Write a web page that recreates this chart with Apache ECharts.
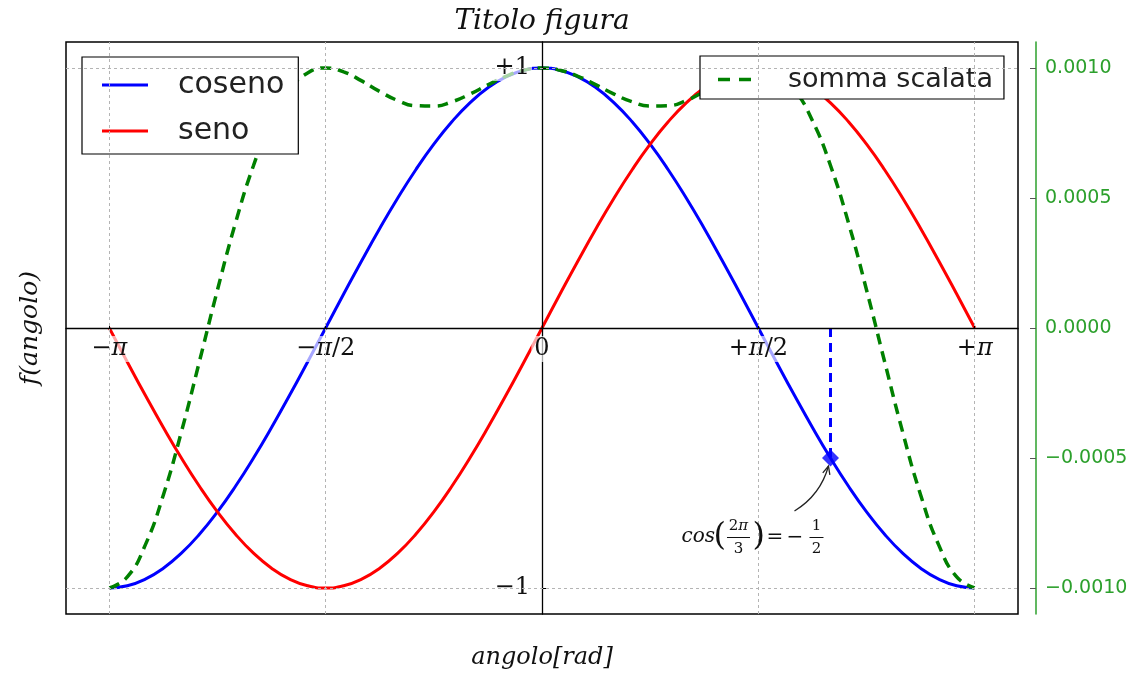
<!DOCTYPE html>
<html>
<head>
<meta charset="utf-8">
<script src="https://cdn.jsdelivr.net/npm/echarts@6/dist/echarts.min.js"></script>
<style>
  html, body { margin: 0; padding: 0; background: #fff; }
  #chart { width: 1131px; height: 673px; }
</style>
</head>
<body>
<div id="chart"></div>
<script>
// Sample angles in radians (step pi/24) and the curves evaluated on them
const angles = [
  -3.1416, -3.0107, -2.8798, -2.7489, -2.6180, -2.4871, -2.3562, -2.2253, -2.0944, -1.9635,
  -1.8326, -1.7017, -1.5708, -1.4399, -1.3090, -1.1781, -1.0472, -0.9163, -0.7854, -0.6545,
  -0.5236, -0.3927, -0.2618, -0.1309, 0, 0.1309, 0.2618, 0.3927, 0.5236, 0.6545,
  0.7854, 0.9163, 1.0472, 1.1781, 1.3090, 1.4399, 1.5708, 1.7017, 1.8326, 1.9635,
  2.0944, 2.2253, 2.3562, 2.4871, 2.6180, 2.7489, 2.8798, 3.0107, 3.1416
];
const cosValues = [
  -1, -0.9914, -0.9659, -0.9239, -0.8660, -0.7934, -0.7071, -0.6088, -0.5, -0.3827,
  -0.2588, -0.1305, 0, 0.1305, 0.2588, 0.3827, 0.5, 0.6088, 0.7071, 0.7934,
  0.8660, 0.9239, 0.9659, 0.9914, 1, 0.9914, 0.9659, 0.9239, 0.8660, 0.7934,
  0.7071, 0.6088, 0.5, 0.3827, 0.2588, 0.1305, 0, -0.1305, -0.2588, -0.3827,
  -0.5, -0.6088, -0.7071, -0.7934, -0.8660, -0.9239, -0.9659, -0.9914, -1
];
const sinValues = [
  0, -0.1305, -0.2588, -0.3827, -0.5, -0.6088, -0.7071, -0.7934, -0.8660, -0.9239,
  -0.9659, -0.9914, -1, -0.9914, -0.9659, -0.9239, -0.8660, -0.7934, -0.7071, -0.6088,
  -0.5, -0.3827, -0.2588, -0.1305, 0, 0.1305, 0.2588, 0.3827, 0.5, 0.6088,
  0.7071, 0.7934, 0.8660, 0.9239, 0.9659, 0.9914, 1, 0.9914, 0.9659, 0.9239,
  0.8660, 0.7934, 0.7071, 0.6088, 0.5, 0.3827, 0.2588, 0.1305, 0
];
// "somma scalata", plotted against the right-hand axis
const scaledSum = [
  -0.0010000, -0.0009575, -0.0008343, -0.0006421, -0.0003995, -0.0001288, 0.0001464, 0.0004038, 0.0006250, 0.0007975,
  0.0009157, 0.0009807, 0.0010000, 0.0009852, 0.0009504, 0.0009096, 0.0008750, 0.0008550, 0.0008536, 0.0008699,
  0.0008995, 0.0009350, 0.0009682, 0.0009916, 0.0010000, 0.0009916, 0.0009682, 0.0009350, 0.0008995, 0.0008699,
  0.0008536, 0.0008550, 0.0008750, 0.0009096, 0.0009504, 0.0009852, 0.0010000, 0.0009807, 0.0009157, 0.0007975,
  0.0006250, 0.0004038, 0.0001464, -0.0001288, -0.0003995, -0.0006421, -0.0008343, -0.0009575, -0.0010000
];

// Tick positions and their labels
const xTickValues = [-Math.PI, -Math.PI / 2, 0, Math.PI / 2, Math.PI];
const xTickLabels = ['−π', '−π/2', '0', '+π/2', '+π'];
const yTickValues = [-1, 1];
const yTickLabels = ['−1', '+1'];
const rightTickValues = [-0.001, -0.0005, 0, 0.0005, 0.001];
const rightTickLabels = ['−0.0010', '−0.0005', '0.0000', '0.0005', '0.0010'];

// Highlighted point: cos(2π/3) = −1/2
const markX = [2.0944];
const markY = [-0.5];

const SERIF = 'DejaVu Serif';
const SANS = 'DejaVu Sans';
const RIGHT_GREEN = '#2ca02c';
const W = 1131, H = 673;
const GRID = { left: 66, right: 113, top: 42, bottom: 59 };
const gridW = W - GRID.left - GRID.right;
const gridH = H - GRID.top - GRID.bottom;

function lookup(values, labels, v) {
  const i = values.findIndex(t => Math.abs(t - v) < 1e-9);
  return i < 0 ? '' : labels[i];
}
function mathLabel(s) {
  return s.replace(/π/g, '{i|π}');
}
const pairs = ys => angles.map((x, i) => [x, ys[i]]);

const chart = echarts.init(document.getElementById('chart'), null, { renderer: 'canvas' });

// The axes cross at the origin; both ranges are symmetric, so the spines sit mid-plot
const option = {
  animation: false,
  backgroundColor: '#fff',
  grid: Object.assign({
    show: true, borderColor: '#000', borderWidth: 1.5, backgroundColor: '#fff',
    outerBoundsMode: 'none'
  }, GRID),
  legend: [
    {
      data: [
        { name: 'coseno', icon: 'rect' },
        { name: 'seno', icon: 'rect' }
      ],
      orient: 'vertical',
      left: 82, top: 57,
      padding: [13, 14, 8, 20],
      itemGap: 16, itemWidth: 46, itemHeight: 3,
      backgroundColor: '#fff', borderColor: '#000', borderWidth: 1.2, borderRadius: 0,
      selectedMode: false,
      formatter: n => '{t|' + n + '}',
      textStyle: {
        fontFamily: SANS, fontSize: 30, lineHeight: 30, color: '#222',
        rich: { t: { fontFamily: SANS, fontSize: 30, lineHeight: 30, color: '#222', padding: [0, 0, 0, 25] } }
      }
    },
    {
      data: [
        { name: 'somma scalata', icon: 'path://M0,0h12v3.5h-12z M21,0h12v3.5h-12z' }
      ],
      orient: 'vertical',
      left: 700, top: 56,
      padding: [10, 11, 6, 18],
      itemWidth: 33, itemHeight: 3.5,
      backgroundColor: '#fff', borderColor: '#000', borderWidth: 1.2, borderRadius: 0,
      selectedMode: false,
      formatter: n => '{t|' + n + '}',
      textStyle: {
        fontFamily: SANS, fontSize: 27, lineHeight: 27, color: '#222',
        rich: { t: { fontFamily: SANS, fontSize: 27, lineHeight: 27, color: '#222', padding: [0, 0, 0, 32] } }
      }
    }
  ],
  xAxis: {
    type: 'value',
    min: -1.1 * Math.PI, max: 1.1 * Math.PI,
    position: 'bottom',
    offset: -gridH / 2,
    z: 3,
    axisLine: { onZero: false, lineStyle: { color: '#000', width: 1.3 } },
    axisTick: { show: true, inside: true, length: 5, customValues: xTickValues, lineStyle: { color: '#000' } },
    axisLabel: {
      customValues: xTickValues,
      formatter: v => mathLabel(lookup(xTickValues, xTickLabels, v)),
      margin: 8,
      fontFamily: SERIF, fontSize: 24, color: '#111',
      backgroundColor: 'rgba(255,255,255,0.65)', padding: [1, 3],
      rich: { i: { fontFamily: SERIF, fontSize: 24, fontStyle: 'italic', color: '#111' } }
    },
    splitLine: { show: false }
  },
  yAxis: [
    {
      type: 'value',
      min: -1.1, max: 1.1,
      position: 'left',
      offset: -gridW / 2,
      z: 3,
      axisLine: { onZero: false, lineStyle: { color: '#000', width: 1.3 } },
      axisTick: { show: true, inside: true, length: 5, customValues: yTickValues, lineStyle: { color: '#000' } },
      axisLabel: {
        customValues: yTickValues,
        formatter: v => lookup(yTickValues, yTickLabels, v),
        margin: 10,
        fontFamily: SERIF, fontSize: 24, color: '#111',
        backgroundColor: 'rgba(255,255,255,0.65)', padding: [1, 2]
      },
      splitLine: { show: false }
    },
    {
      type: 'value',
      position: 'right',
      offset: 18,
      min: -0.0011, max: 0.0011,
      axisLine: { show: true, onZero: false, lineStyle: { color: RIGHT_GREEN, width: 1.5 } },
      axisTick: { show: true, inside: true, length: 6, customValues: rightTickValues, lineStyle: { color: '#555' } },
      axisLabel: {
        customValues: rightTickValues,
        formatter: v => lookup(rightTickValues, rightTickLabels, v),
        margin: 9,
        fontFamily: SANS, fontSize: 19, color: RIGHT_GREEN
      },
      splitLine: { show: false }
    }
  ],
  series: [
    {
      // dotted reference grid at the labelled ticks
      type: 'line', name: 'griglia', data: [], z: 1, silent: true,
      markLine: {
        silent: true, symbol: 'none', animation: false,
        label: { show: false },
        emphasis: { disabled: true },
        lineStyle: { color: '#b4b4b4', type: [3, 3], width: 1 },
        data: [
          ...xTickValues.filter(v => v !== 0).map(v => ({ xAxis: v })),
          ...yTickValues.map(v => ({ yAxis: v }))
        ]
      }
    },
    {
      type: 'line', name: 'coseno', data: pairs(cosValues), smooth: true,
      showSymbol: false, symbol: 'none', z: 2,
      lineStyle: { color: '#0000ff', width: 3 }, itemStyle: { color: '#0000ff' }
    },
    {
      type: 'line', name: 'seno', data: pairs(sinValues), smooth: true,
      showSymbol: false, symbol: 'none', z: 2,
      lineStyle: { color: '#ff0000', width: 3 }, itemStyle: { color: '#ff0000' }
    },
    {
      type: 'line', name: 'somma scalata', data: pairs(scaledSum), yAxisIndex: 1, smooth: true,
      showSymbol: false, symbol: 'none', z: 2,
      lineStyle: { color: '#008000', width: 3.5, type: [11, 7] }, itemStyle: { color: '#008000' }
    },
    {
      // dashed drop line from the axis to the highlighted point
      type: 'line', name: 'proiezione', data: [[markX[0], 0], [markX[0], markY[0]]],
      showSymbol: false, symbol: 'none', z: 2, silent: true,
      lineStyle: { color: '#0000ff', width: 3, type: [9, 6] }
    },
    {
      type: 'scatter', name: 'punto', data: markX.map((x, i) => [x, markY[i]]),
      symbol: 'diamond', symbolSize: [17, 17], z: 4, silent: true,
      itemStyle: { color: '#0000ff' }
    }
  ]
};

chart.setOption(option);

// Titles and the point annotation, placed around the plotted marker
const p = chart.convertToPixel({ xAxisIndex: 0, yAxisIndex: 0 }, [markX[0], markY[0]]);
const frac = (cx, top, bottom, barW) => [
  { type: 'text', x: p[0] + cx, y: p[1] + 68, z: 10,
    style: { text: top, fill: '#111', font: '15px "' + SERIF + '"', align: 'center', verticalAlign: 'middle',
      rich: { i: { fontFamily: SERIF, fontSize: 15, fontStyle: 'italic', fill: '#111' } } } },
  { type: 'line', z: 10, shape: { x1: p[0] + cx - barW / 2, y1: p[1] + 79.5, x2: p[0] + cx + barW / 2, y2: p[1] + 79.5 },
    style: { stroke: '#111', lineWidth: 1 } },
  { type: 'text', x: p[0] + cx, y: p[1] + 91, z: 10,
    style: { text: bottom, fill: '#111', font: '15px "' + SERIF + '"', align: 'center', verticalAlign: 'middle' } }
];
const ex = p[0] - 2, ey = p[1] + 8, qx = p[0] - 10, qy = p[1] + 37, sx = p[0] - 36, sy = p[1] + 53;
const ang = Math.atan2(ey - qy, ex - qx);
const headL = 9, headA = 0.42;

chart.setOption({
  graphic: [
    { type: 'text', x: 542, y: 22, z: 10,
      style: { text: 'Titolo figura', font: 'italic 28px "' + SERIF + '"', fill: '#111', align: 'center', verticalAlign: 'middle' } },
    { type: 'text', x: 542, y: 658, z: 10,
      style: { text: 'angolo[rad]', font: 'italic 24px "' + SERIF + '"', fill: '#111', align: 'center', verticalAlign: 'middle' } },
    { type: 'text', x: 30, y: 328, z: 10, rotation: Math.PI / 2,
      style: { text: 'f(angolo)', font: 'italic 25px "' + SERIF + '"', fill: '#111', align: 'center', verticalAlign: 'middle' } },
    { type: 'text', x: p[0] - 149, y: p[1] + 79, z: 10,
      style: { text: 'cos', font: 'italic 20px "' + SERIF + '"', fill: '#111', align: 'left', verticalAlign: 'middle' } },
    { type: 'text', x: p[0] - 117, y: p[1] + 79, z: 10,
      style: { text: '(', font: '32px "' + SERIF + '"', fill: '#111', align: 'left', verticalAlign: 'middle' } },
    ...frac(-92, '2{i|π}', '3', 23),
    { type: 'text', x: p[0] - 78, y: p[1] + 79, z: 10,
      style: { text: ')', font: '32px "' + SERIF + '"', fill: '#111', align: 'left', verticalAlign: 'middle' } },
    { type: 'text', x: p[0] - 64, y: p[1] + 80, z: 10,
      style: { text: '=', font: '20px "' + SERIF + '"', fill: '#111', align: 'left', verticalAlign: 'middle' } },
    { type: 'text', x: p[0] - 44, y: p[1] + 80, z: 10,
      style: { text: '−', font: '20px "' + SERIF + '"', fill: '#111', align: 'left', verticalAlign: 'middle' } },
    ...frac(-14, '1', '2', 14),
    { type: 'bezierCurve', z: 10,
      shape: { x1: sx, y1: sy, cpx1: qx, cpy1: qy, x2: ex, y2: ey },
      style: { stroke: '#222', lineWidth: 1.3, fill: null } },
    { type: 'polyline', z: 10,
      shape: { points: [
        [ex - headL * Math.cos(ang - headA), ey - headL * Math.sin(ang - headA)],
        [ex, ey],
        [ex - headL * Math.cos(ang + headA), ey - headL * Math.sin(ang + headA)]
      ] },
      style: { stroke: '#222', lineWidth: 1.3, fill: null } }
  ]
});
</script>
</body>
</html>
